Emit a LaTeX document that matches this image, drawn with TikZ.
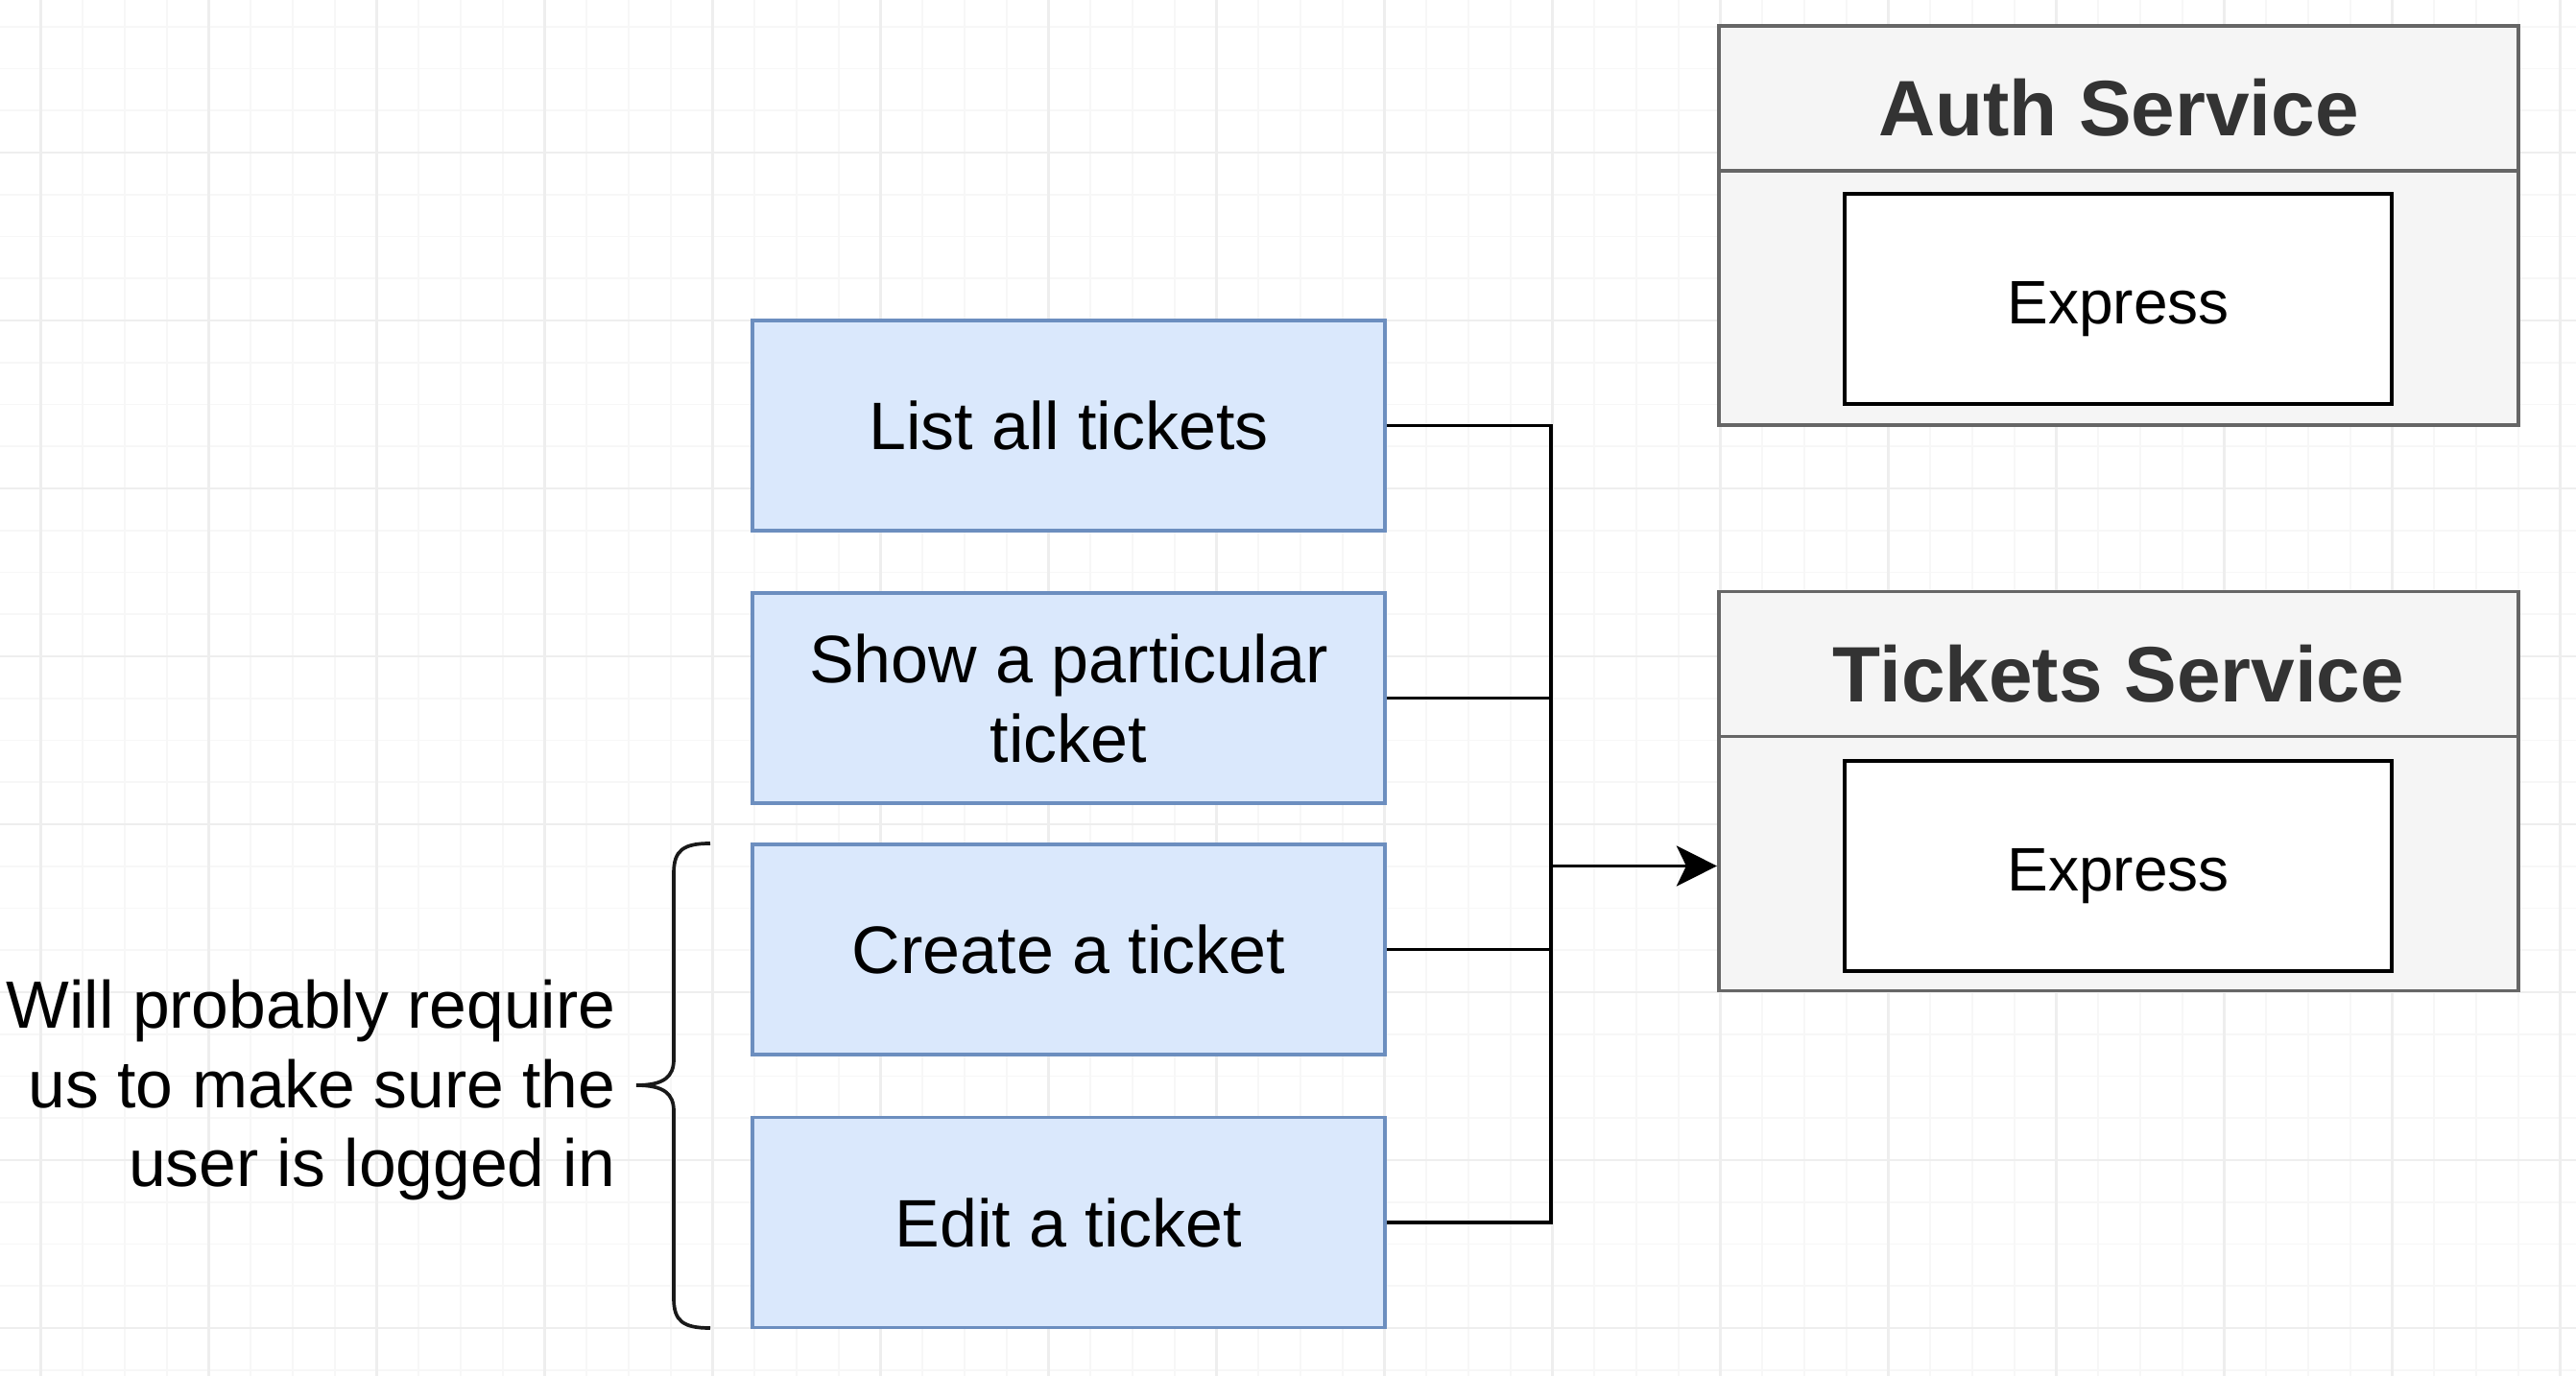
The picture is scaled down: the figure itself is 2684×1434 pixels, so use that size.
\documentclass[tikz,border=0pt]{standalone}
\usepackage{fontspec}
\setmainfont{Liberation Sans}
\usetikzlibrary{arrows.meta}
\definecolor{boxfill}{HTML}{DAE8FC}
\definecolor{boxline}{HTML}{6C8EBF}
\definecolor{svcfill}{HTML}{F5F5F5}
\definecolor{svcline}{HTML}{666666}
\definecolor{titlecol}{HTML}{333333}
\definecolor{gridminor}{HTML}{F7F7F7}
\definecolor{gridmajor}{HTML}{EEEEEE}
\begin{document}
\begin{tikzpicture}[x=0.01cm,y=-0.01cm,
  task/.style={draw=boxline, fill=boxfill, line width=1.05pt, minimum width=6.59cm, minimum height=2.19cm,
    inner sep=0pt, align=center, text depth=0pt, font=\fontsize{19.9}{23.6}\selectfont, text=black},
  svc/.style={draw=svcline, fill=svcfill, line width=1.05pt, minimum width=8.33cm, minimum height=4.16cm, inner sep=0pt},
  svctitle/.style={inner sep=0pt, anchor=base, font=\fontsize{23.3}{28}\selectfont\bfseries, text=titlecol},
  expr/.style={draw=black, fill=white, line width=1.05pt, minimum width=5.70cm, minimum height=2.19cm,
    inner sep=0pt, text depth=0pt, font=\fontsize{18.2}{22}\selectfont},
  exprtext/.style={inner sep=0pt, anchor=base, font=\fontsize{18.2}{22}\selectfont},
  conn/.style={draw=black, line width=1.1pt},
  note/.style={align=right, inner sep=0pt, anchor=east, font=\fontsize{19.8}{23.6}\selectfont},
  gminor/.style={draw=gridminor, line width=0.5pt},
  gmajor/.style={draw=gridmajor, line width=0.6pt}
]
\useasboundingbox (0,0) rectangle (2684,1434);
\fill[white] (0,0) rectangle (2684,1434);
% grid
\foreach \i in {0,...,61} { \draw[gminor] ({-1.25+43.75*\i},0) -- ({-1.25+43.75*\i},1434); }
\foreach \j in {0,...,33} { \draw[gminor] (0,{-16+43.75*\j}) -- (2684,{-16+43.75*\j}); }
\foreach \i in {0,...,15} { \draw[gmajor] ({42.5+175*\i},0) -- ({42.5+175*\i},1434); }
\foreach \j in {0,...,9} { \draw[gmajor] (0,{-16+175*\j}) -- (2684,{-16+175*\j}); }

% task boxes
\node[task] (list) at (1113.5,443.5) {List all tickets};
\node[task] (show) at (1113.5,727.5) {Show a particular\\ticket};
\node[task] (create) at (1113.5,989.5) {Create a ticket};
\node[task] (edit) at (1113.5,1274) {Edit a ticket};

% services
\node[svc] (auth) at (2207.5,235) {};
\draw[draw=svcline, line width=1.05pt] ([yshift=-1.53cm]auth.north west) -- ([yshift=-1.53cm]auth.north east);
\node[svctitle] (authtitle) at (2207.5,142) {Auth Service};
\node[expr] (authexp) at (2207,311.5) {};
\node[exprtext] (authexptext) at (2207,338) {Express};

\node[svc] (tickets) at (2207.5,824.5) {};
\draw[draw=svcline, line width=1.05pt] ([yshift=-1.53cm]tickets.north west) -- ([yshift=-1.53cm]tickets.north east);
\node[svctitle] (tickettitle) at (2207.5,732) {Tickets Service};
\node[expr] (ticketsexp) at (2207,902.5) {};
\node[exprtext] (ticketsexptext) at (2207,929) {Express};

% connectors
\coordinate (bus) at (1616,0);
\draw[conn] (list.east) -- (list.east -| bus) -- (edit.east -| bus) -- (edit.east);
\draw[conn] (show.east) -- (show.east -| bus);
\draw[conn] (create.east) -- (create.east -| bus);
\draw[conn, -{Stealth[length=0.42cm, width=0.42cm, inset=0.1cm]}] (ticketsexp.west -| bus) -- (ticketsexp.west -| tickets.west);

% brace and note
\draw[line width=1.05pt, draw=black!90] (740,879) .. controls (712,879) and (702,886) .. (702,910)
  -- (702,1104) .. controls (702,1122) and (692,1131) .. (663,1131)
  .. controls (692,1131) and (702,1140) .. (702,1158)
  -- (702,1353) .. controls (702,1377) and (712,1384) .. (740,1384);
\node[note] (note) at (642,1136) {Will probably require\\us to make sure the\\user is logged in};
\end{tikzpicture}
\end{document}
